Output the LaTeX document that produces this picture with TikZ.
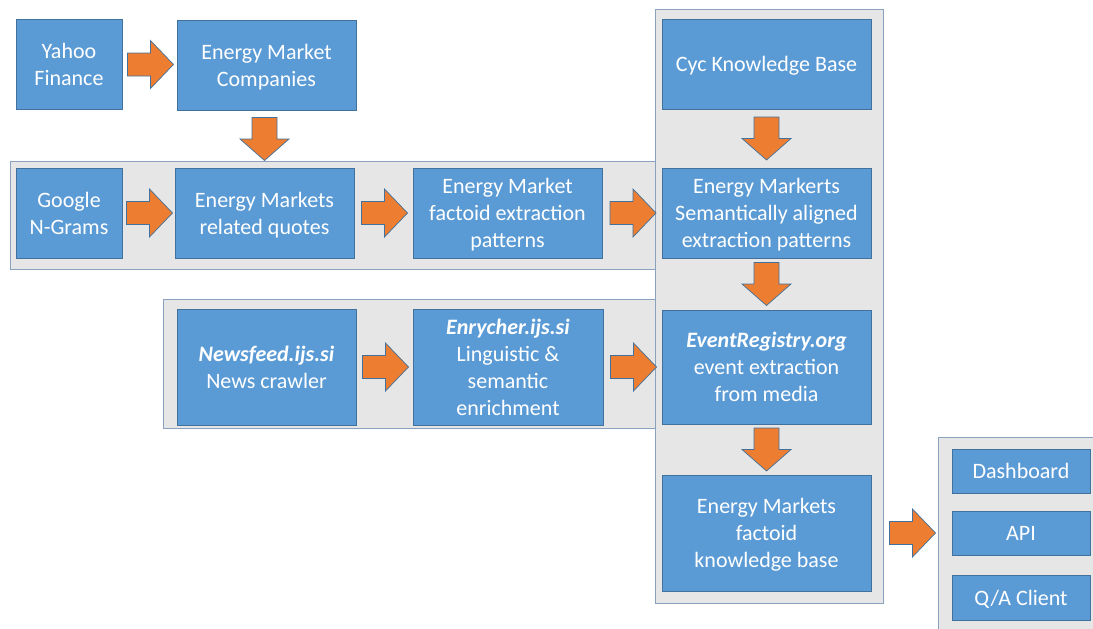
\documentclass[tikz,border=0pt]{standalone}
\usepackage{fontspec}
\setmainfont{Carlito}
\usetikzlibrary{calc}

\definecolor{boxfill}{HTML}{5B9BD5}
\definecolor{boxline}{HTML}{41719C}
\definecolor{arrowfill}{HTML}{ED7D31}
\definecolor{panelfill}{HTML}{E6E6E6}
\definecolor{panelline}{HTML}{8AA2C0}

% line strut: keeps the cap height of every text block centred in its box
\newcommand\bs{\rule[-6pt]{0pt}{27pt}}

\tikzset{
  box/.style={rectangle, fill=boxfill, draw=boxline, line width=0.9pt,
    text=white, align=center, inner sep=0pt,
    font=\fontsize{22}{27}\selectfont},
  panel/.style={rectangle, fill=panelfill, draw=panelline, line width=0.9pt, inner sep=0pt},
  blockarrow/.style={fill=arrowfill, draw=boxline, line width=0.7pt, line join=miter},
}

% block arrow pointing right, centred between two nodes
\newcommand\harrow[2]{%
  \path[blockarrow] let \p1=($(#1.east)!0.5!(#2.west)$) in
    (\x1-22pt,\y1+11.5pt) -- (\x1+1pt,\y1+11.5pt) -- (\x1+1pt,\y1+24pt) --
    (\x1+24pt,\y1) -- (\x1+1pt,\y1-24pt) -- (\x1+1pt,\y1-11.5pt) --
    (\x1-22pt,\y1-11.5pt) -- cycle;}
% block arrow pointing down, centred between two nodes
\newcommand\varrow[2]{%
  \path[blockarrow] let \p1=($(#1.south)!0.5!(#2.north)$), \p2=(#2.north) in
    (\x2-12.5pt,\y1+21.5pt) -- (\x2+12.5pt,\y1+21.5pt) -- (\x2+12.5pt,\y1) --
    (\x2+24.5pt,\y1) -- (\x2,\y1-21.5pt) -- (\x2-24.5pt,\y1) --
    (\x2-12.5pt,\y1) -- cycle;}

\begin{document}
\begin{tikzpicture}[x=1pt, y=-1pt]
\useasboundingbox (0,0) rectangle (1093,629);

% grey grouping panels
\node[panel, minimum width=645pt, minimum height=108pt] (quotespanel) at (332.5,215) {};
\node[panel, minimum width=492pt, minimum height=129pt] (newspanel) at (409,363.5) {};
\node[panel, minimum width=228pt, minimum height=594pt] (kbpanel) at (769,306) {};
\node[panel, minimum width=170pt, minimum height=210pt] (outpanel) at (1023,542) {};

% top row
\node[box, minimum width=106pt, minimum height=90pt] (yahoo) at (69,64) {\bs Yahoo\\Finance\bs};
\node[box, minimum width=179pt, minimum height=90pt] (companies) at (266.5,65) {\bs Energy Market\\Companies\bs};
\node[box, minimum width=209pt, minimum height=90pt] (cyc) at (766.5,64) {\bs Cyc Knowledge Base};

% quotes row
\node[box, minimum width=106pt, minimum height=90pt] (ngrams) at (69,213) {\bs Google\\N-Grams\bs};
\node[box, minimum width=179pt, minimum height=90pt] (quotes) at (264.5,213) {\bs Energy Markets\\related quotes\bs};
\node[box, minimum width=189pt, minimum height=90pt] (patterns) at (507.5,213) {\bs Energy Market\\factoid extraction\\patterns\bs};
\node[box, minimum width=209pt, minimum height=90pt] (aligned) at (766.5,213) {\bs Energy Markerts\\Semantically aligned\\extraction patterns\bs};

% news row
\node[box, minimum width=179pt, minimum height=116pt] (newsfeed) at (266.5,367) {\bs\textbf{\textit{Newsfeed.ijs.si}}\\News crawler\bs};
\node[box, minimum width=190pt, minimum height=116pt] (enrycher) at (508,367) {\bs\textbf{\textit{Enrycher.ijs.si}}\\Linguistic \&\\semantic\\enrichment\bs};
\node[box, minimum width=209pt, minimum height=114pt] (eventreg) at (766.5,367) {\bs\textbf{\textit{EventRegistry.org}}\\event extraction\\from media\bs};

% knowledge base and its clients
\node[box, minimum width=209pt, minimum height=116pt] (factkb) at (766.5,533) {\bs Energy Markets\\factoid\\knowledge base\bs};
\node[box, minimum width=138pt, minimum height=44pt] (dashboard) at (1021,471) {\bs Dashboard};
\node[box, minimum width=138pt, minimum height=44pt] (api) at (1021,533) {\bs API};
\node[box, minimum width=138pt, minimum height=45pt] (qaclient) at (1021,597.5) {\bs Q/A Client};

% flow arrows
\harrow{yahoo}{companies}
\varrow{companies}{quotes}
\harrow{ngrams}{quotes}
\harrow{quotes}{patterns}
\harrow{patterns}{aligned}
\varrow{cyc}{aligned}
\varrow{aligned}{eventreg}
\harrow{newsfeed}{enrycher}
\harrow{enrycher}{eventreg}
\varrow{eventreg}{factkb}
\harrow{factkb}{api}
\end{tikzpicture}
\end{document}
